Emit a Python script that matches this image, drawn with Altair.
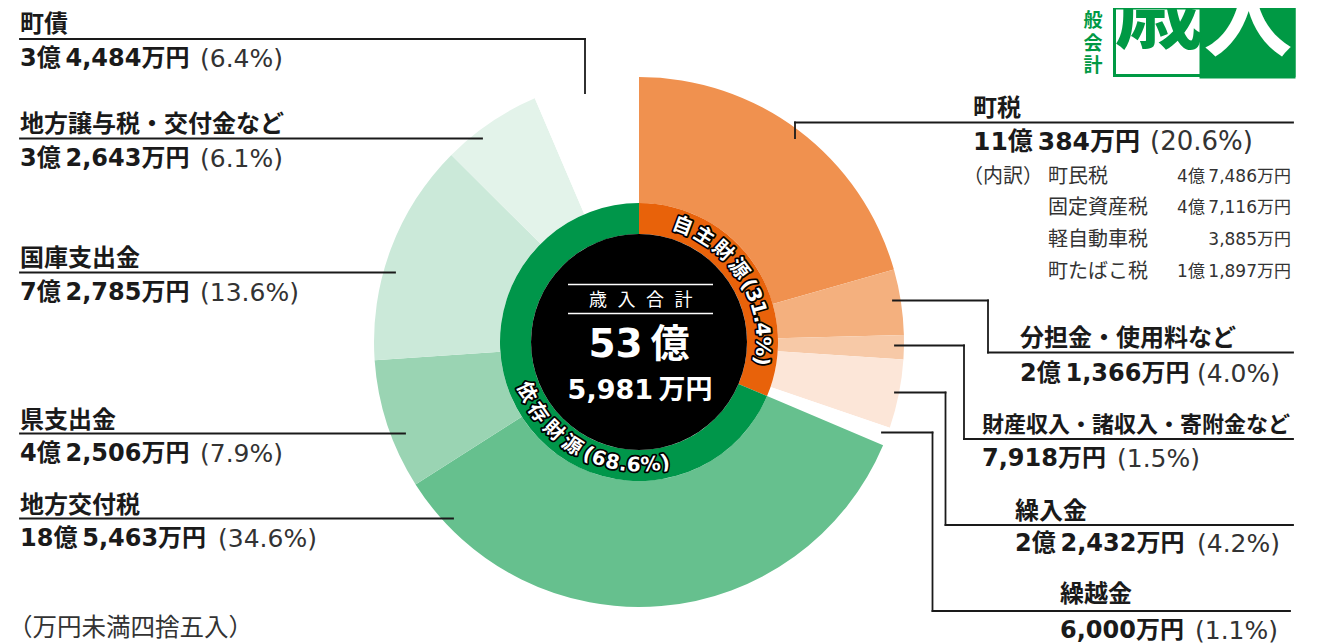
import math
import altair as alt
import pandas as pd

# ---------------- data ----------------
outer_names = ["町税", "分担金・使用料など", "財産収入・諸収入・寄附金など", "繰入金", "繰越金",
               "地方交付税", "県支出金", "国庫支出金", "地方譲与税・交付金など", "町債"]
outer_values = [110384, 21366, 7918, 22432, 6000, 185463, 42506, 72785, 32643, 34484]  # 万円
outer_amounts = ["11億384万円", "2億1,366万円", "7,918万円", "2億2,432万円", "6,000万円",
                 "18億5,463万円", "4億2,506万円", "7億2,785万円", "3億2,643万円", "3億4,484万円"]
outer_pcts = ["(20.6%)", "(4.0%)", "(1.5%)", "(4.2%)", "(1.1%)",
              "(34.6%)", "(7.9%)", "(13.6%)", "(6.1%)", "(6.4%)"]
outer_colors = ["#F0914F", "#F4B07E", "#F7C9A7", "#FCE6D8", "#FFFFFF",
                "#66C08E", "#9AD4B3", "#CBE9D9", "#E3F3EA", "#FFFFFF"]

inner_names = ["自主財源", "依存財源"]
inner_values = [168100, 367881]
inner_pcts = ["(31.4%)", "(68.6%)"]
inner_colors = ["#E8620A", "#00964A"]

tax_items = ["町民税", "固定資産税", "軽自動車税", "町たばこ税"]
tax_amounts = ["4億7,486万円", "4億7,116万円", "3,885万円", "1億1,897万円"]

total_label = "歳入合計"
total_main = "53億"
total_sub = "5,981万円"
note_text = "（万円未満四捨五入）"
title_side = ["般", "会", "計"]
title_big = ["歳", "入"]

# ---------------- layout (page pixel coordinates) ----------------
M = 8
W, H = 1304, 636
CX, CY = 639, 342
R_CORE, R_RING, R_OUTER = 108, 139, 265
JP = "Noto Sans CJK JP"
NUM = "DejaVu Sans, Noto Sans CJK JP"
GREEN = "#009944"
INK = "#1a1a1a"
DY = 1.5


def px(v):
    return v - M


# name: (x, name_y, amount_y, pct_x, name_size, amount_size)
label_layout = {
    "町債": (20, 23, 57, 200, 24, 24),
    "地方譲与税・交付金など": (20, 123, 157, 200, 24, 24),
    "国庫支出金": (20, 257, 291, 200, 24, 24),
    "県支出金": (20, 419, 452, 200, 24, 24),
    "地方交付税": (20, 504, 537, 218, 24, 24),
    "町税": (973, 107, 140, 1150, 24, 25),
    "分担金・使用料など": (1020, 337, 372, 1197, 24, 24),
    "財産収入・諸収入・寄附金など": (982, 423, 457, 1117, 22, 24),
    "繰入金": (1015, 510, 542, 1197, 24, 24),
    "繰越金": (1060, 593, 629, 1195, 24, 24),
}

leader_paths = [
    [(20, 39), (585, 39), (585, 93)],
    [(20, 138.5), (482, 138.5)],
    [(20, 272.5), (395, 272.5)],
    [(20, 433.5), (405, 433.5)],
    [(20, 518.5), (453, 518.5)],
    [(795, 138), (795, 122.5), (1293, 122.5)],
    [(893, 300.5), (988, 300.5), (988, 352.5), (1293, 352.5)],
    [(895, 345.5), (964, 345.5), (964, 439), (1293, 439)],
    [(895, 392.5), (945.5, 392.5), (945.5, 525), (1293, 525)],
    [(882, 432.5), (932.5, 432.5), (932.5, 611), (1290, 611)],
]

# ---------------- arcs ----------------
def xy_enc():
    return dict(x=alt.value(px(CX)), y=alt.value(px(CY)))


outer_df = pd.DataFrame({"name": outer_names, "value": outer_values,
                         "color": outer_colors, "o": list(range(len(outer_names)))})
outer = alt.Chart(outer_df).mark_arc(innerRadius=R_RING, outerRadius=R_OUTER).encode(
    theta=alt.Theta("value:Q", stack=True),
    order=alt.Order("o:Q"),
    color=alt.Color("color:N", scale=None),
    **xy_enc(),
)

inner_df = pd.DataFrame({"name": inner_names, "value": inner_values,
                         "color": inner_colors, "o": [0, 1]})
inner = alt.Chart(inner_df).mark_arc(innerRadius=R_CORE, outerRadius=R_RING).encode(
    theta=alt.Theta("value:Q", stack=True),
    order=alt.Order("o:Q"),
    color=alt.Color("color:N", scale=None),
    **xy_enc(),
)

core_df = pd.DataFrame({"value": [sum(outer_values)]})
core = alt.Chart(core_df).mark_arc(innerRadius=0, outerRadius=R_CORE, color="#000000").encode(
    theta=alt.Theta("value:Q"),
    **xy_enc(),
)

# ---------------- leader lines ----------------
segs = []
for path in leader_paths:
    for (x1, y1), (x2, y2) in zip(path[:-1], path[1:]):
        segs.append({"x": px(x1), "y": px(y1), "x2": px(x2), "y2": px(y2)})
seg_df = pd.DataFrame(segs)
rules = alt.Chart(seg_df).mark_rule(color=INK, strokeWidth=1.8, strokeCap="square").encode(
    x=alt.X("x:Q", scale=None, axis=None), y=alt.Y("y:Q", scale=None, axis=None),
    x2="x2:Q", y2="y2:Q")

# white lines in the centre
cl_df = pd.DataFrame({"x": [px(568)] * 2, "x2": [px(713)] * 2, "y": [px(284.5), px(313.5)]})
center_lines = alt.Chart(cl_df).mark_rule(color="#FFFFFF", strokeWidth=1.5).encode(
    x=alt.X("x:Q", scale=None, axis=None), x2="x2:Q",
    y=alt.Y("y:Q", scale=None, axis=None))


def text_layer(rows, **kw):
    df = pd.DataFrame(rows)
    enc = dict(x=alt.X("x:Q", scale=None, axis=None),
               y=alt.Y("y:Q", scale=None, axis=None),
               text=alt.Text("t:N"))
    if "s" in df.columns:
        enc["size"] = alt.Size("s:Q", scale=None, legend=None)
    if "a" in df.columns:
        enc["angle"] = alt.Angle("a:Q", scale=None)
    kw.setdefault("dy", DY)
    return alt.Chart(df).mark_text(baseline="middle", **kw).encode(**enc)


name_rows, amt_rows, pct_rows = [], [], []
for name, amt, pct in zip(outer_names, outer_amounts, outer_pcts):
    x, ny, ay, pxx, nsz, asz = label_layout[name]
    name_rows.append({"x": px(x), "y": px(ny), "t": name, "s": nsz})
    amt_rows.append({"x": px(x), "y": px(ay), "t": amt.replace("億", "億\u2009"), "s": asz})
    pct_rows.append({"x": px(pxx), "y": px(ay), "t": pct, "s": asz + 1})

names_t = text_layer(name_rows, align="left", font=JP, fontWeight="bold", color=INK)
amts_t = text_layer(amt_rows, align="left", font=NUM, fontWeight="bold", color=INK)
pcts_t = text_layer(pct_rows, align="left", font=NUM, fontWeight="normal", color="#333333")

# breakdown of 町税
row_y = [175, 206.5, 238, 270]
bd_rows = [{"x": px(1048), "y": px(yy), "t": t} for t, yy in zip(tax_items, row_y)]
bd_rows.append({"x": px(963), "y": px(row_y[0]), "t": "（内訳）"})
bd_t = text_layer(bd_rows, align="left", font=JP, fontSize=20, color="#333333")
bdv_rows = [{"x": px(1291), "y": px(yy), "t": t.replace("億", "億\u2009")} for t, yy in zip(tax_amounts, row_y)]
bdv_t = text_layer(bdv_rows, align="right", font=NUM, fontSize=17, color="#333333")

note_t = text_layer([{"x": px(8), "y": px(627), "t": note_text}], align="left", font=JP,
                    fontSize=24.5, color="#333333")

# centre texts
lbl_rows = [{"x": px(598 + 28.5 * i), "y": px(299), "t": c} for i, c in enumerate(total_label)]
lbl_t = text_layer(lbl_rows, align="center", font=JP, fontSize=18, color="#FFFFFF")
main_t = text_layer([{"x": px(639), "y": px(343), "t": total_main.replace("億", "\u2009億")}],
                    align="center", font=NUM, fontSize=39, fontWeight="bold", color="#FFFFFF")
sub_t = text_layer([{"x": px(640), "y": px(389), "t": total_sub.replace("万", "\u2009万")}],
                   align="center", font=NUM, fontSize=27, fontWeight="bold", color="#FFFFFF")

# curved ring labels
FS_RING = 20
R_TEXT = 123.5


def cw(c):
    if c.isdigit():
        return 0.70 * FS_RING
    if c == ".":
        return 0.38 * FS_RING
    if c == "%":
        return 1.0 * FS_RING
    if c in "()":
        return 0.46 * FS_RING
    return 1.0 * FS_RING


def curved(text, start_deg, clockwise):
    rows = []
    s = 0.0
    centers = []
    for c in text:
        w = cw(c)
        centers.append(s + w / 2)
        s += w + (3.8 if ord(c) > 0x2E80 else 0.0)
    for c, cc in zip(text, centers):
        d = (cc - centers[0]) / R_TEXT * 180 / math.pi
        th = start_deg + d if clockwise else start_deg - d
        rad = math.radians(th)
        ang = th % 360 if clockwise else (th - 180) % 360
        rows.append({"x": px(CX) + R_TEXT * math.sin(rad),
                     "y": px(CY) - R_TEXT * math.cos(rad), "t": c, "a": ang})
    return rows


ring_rows = curved(inner_names[0] + inner_pcts[0], 20.6, True) + \
    curved(inner_names[1] + inner_pcts[1], 246.0, False)
ring_outline = text_layer(ring_rows, align="center", font=NUM, fontSize=FS_RING, fontWeight="bold",
                          color="#000000", stroke="#000000", strokeWidth=3.5, strokeJoin="round", dy=0)
ring_fill = text_layer(ring_rows, align="center", font=NUM, fontSize=FS_RING, fontWeight="bold",
                       color="#FFFFFF", dy=0)

# title block (top right)
box_df = pd.DataFrame({"x": [px(1114.5), px(1201)], "x2": [px(1294), px(1294)],
                       "y": [0, 0], "y2": [px(75.5), px(77)],
                       "fill": ["#FFFFFF", GREEN]})
boxes = alt.Chart(box_df).mark_rect(stroke=GREEN, strokeWidth=3).encode(
    x=alt.X("x:Q", scale=None, axis=None), x2="x2:Q",
    y=alt.Y("y:Q", scale=None, axis=None), y2="y2:Q",
    fill=alt.Fill("fill:N", scale=None))
big_t = text_layer([{"x": px(1159), "y": px(14), "t": title_big[0]}], align="center", font=JP,
                   fontSize=90, fontWeight="bold", color=GREEN, dy=0)
big2_t = text_layer([{"x": px(1248), "y": px(21), "t": title_big[1]}], align="center", font=JP,
                    fontSize=90, fontWeight="bold", color="#FFFFFF", dy=0)
side_rows = [{"x": px(1093), "y": px(yy), "t": c} for c, yy in zip(title_side, [19, 42, 64])]
side_t = text_layer(side_rows, align="center", font=JP, fontSize=19, fontWeight="bold", color=GREEN)

chart = alt.layer(
    outer, inner, core, center_lines, rules,
    names_t, amts_t, pcts_t, bd_t, bdv_t, note_t,
    lbl_t, main_t, sub_t, ring_outline, ring_fill,
    boxes, big_t, big2_t, side_t,
).resolve_scale(theta="independent").properties(
    width=W, height=H, autosize=alt.AutoSizeParams(type="none"), padding=0
).configure_view(strokeWidth=0)

chart.save("out.html", embed_options={"renderer": "svg", "actions": False})
